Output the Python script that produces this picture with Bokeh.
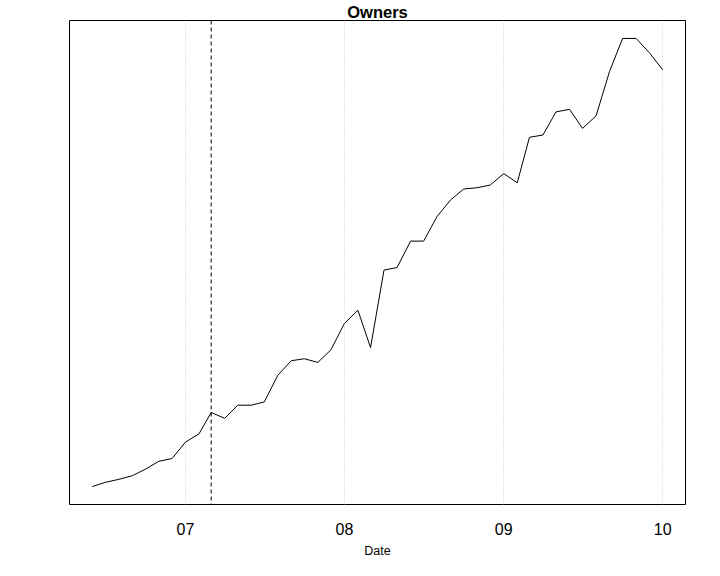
import pandas as pd
from bokeh.plotting import figure
from bokeh.models import Range1d, FixedTicker, DatetimeTickFormatter, Span
from bokeh.embed import file_html
from bokeh.resources import INLINE

# ---- data (monthly) ----
dates = pd.date_range(start="2006-06-01", end="2010-01-01", freq="MS")
owners = [
    177, 220, 250, 287, 353, 433, 460,                                   # 2006 Jun-Dec
    627, 710, 927, 867, 1000, 1000, 1033, 1303, 1450, 1470, 1433, 1560,  # 2007
    1827, 1960, 1583, 2367, 2393, 2660, 2660, 2910, 3077, 3187, 3200, 3227,  # 2008
    3343, 3250, 3710, 3733, 3967, 3993, 3800, 3927, 4377, 4710, 4710, 4567,  # 2009
    4393,                                                                # 2010 Jan
]
event_date = pd.Timestamp("2007-03-01")
tick_dates = [pd.Timestamp("2007-01-01"), pd.Timestamp("2008-01-01"),
              pd.Timestamp("2009-01-01"), pd.Timestamp("2010-01-01")]
title_text = "Owners"
xlabel_text = "Date"

# ---- ranges with R-style 4% padding ----
def ms(t):
    return pd.Timestamp(t).value / 1e6

x0, x1 = ms(dates[0]), ms(dates[-1])
xpad = 0.04 * (x1 - x0)
y0, y1 = min(owners), max(owners)
ypad = 0.04 * (y1 - y0)

p = figure(x_axis_type="datetime", output_backend="svg", toolbar_location=None,
           width=704, height=560,
           min_border_left=69, min_border_right=19, min_border_top=17,
           min_border_bottom=56,
           x_range=Range1d(x0 - xpad, x1 + xpad),
           y_range=Range1d(y0 - ypad, y1 + ypad),
           title=title_text)
p.background_fill_color = "white"
p.border_fill_color = "white"
p.outline_line_color = "black"
p.outline_line_width = 1
p.outline_line_alpha = 1

# title
p.title.align = "center"
p.title.text_font = "Liberation Sans"
p.title.text_font_size = "16.5px"
p.title.text_font_style = "bold"
p.title.text_color = "black"
p.title.standoff = 0
p.title.offset = 0

# axes
p.yaxis.visible = False
p.ygrid.visible = False
xa = p.xaxis[0]
xa.ticker = FixedTicker(ticks=[ms(t) for t in tick_dates])
xa.formatter = DatetimeTickFormatter(years="%y", months="%y", days="%y",
                                     hours="%y", minutes="%y", seconds="%y")
xa.axis_line_color = None
xa.major_tick_line_color = None
xa.minor_tick_line_color = None
xa.major_tick_out = 0
xa.major_tick_in = 0
xa.major_label_standoff = 18
xa.major_label_text_font = "Liberation Sans"
xa.major_label_text_font_size = "16px"
xa.major_label_text_color = "black"
xa.axis_label = xlabel_text
xa.axis_label_text_font = "Liberation Sans"
xa.axis_label_text_font_size = "12.5px"
xa.axis_label_text_font_style = "normal"
xa.axis_label_text_color = "black"
xa.axis_label_standoff = 6

p.xgrid.grid_line_color = "#cfcfcf"
p.xgrid.grid_line_dash = "1 2"
p.xgrid.grid_line_width = 1

# event marker
p.add_layout(Span(location=ms(event_date), dimension="height",
                  line_color="black", line_width=1, line_dash="4 3"))

# series
p.line(x=list(dates), y=owners, line_color="black", line_width=1)

open("out.html", "w").write(file_html(p, INLINE))
